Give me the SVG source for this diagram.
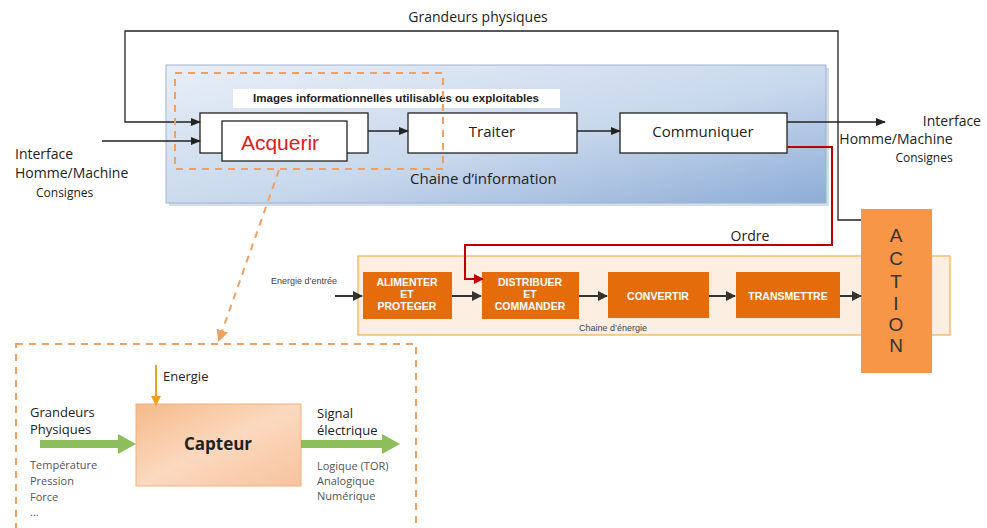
<svg xmlns="http://www.w3.org/2000/svg" width="987" height="528" viewBox="0 0 987 528">
<style>
text{font-family:"Open Sans","Noto Sans","DejaVu Sans",sans-serif;fill:#222}
text.ar{font-family:"Liberation Sans",Arial,sans-serif}
.box{fill:#fff;stroke:#222;stroke-width:1.3}
.ln{fill:none;stroke:#222;stroke-width:1.3}
.red{fill:none;stroke:#c00000;stroke-width:2}
.dash{fill:none;stroke:#f0a060;stroke-width:2;stroke-dasharray:7,6}
.ob{fill:#e46c0a}
.ot{font-family:"Liberation Sans",Arial,sans-serif;font-weight:bold;font-size:10.5px;fill:#fff;text-anchor:middle}
.ea{fill:none;stroke:#333;stroke-width:2}
.act{font-family:"Liberation Sans",Arial,sans-serif;font-size:19px;fill:#333;text-anchor:middle}
.sm{font-size:11px;fill:#555}
.md{font-size:13px}
</style>
<defs>
<linearGradient id="blue" x1="0" y1="0" x2="1" y2="1">
<stop offset="0" stop-color="#e8eef7"/>
<stop offset="0.55" stop-color="#c8d8ec"/>
<stop offset="1" stop-color="#8eacd6"/>
</linearGradient>
<linearGradient id="cap" x1="0" y1="0" x2="1" y2="1">
<stop offset="0" stop-color="#f6b98a"/>
<stop offset="0.5" stop-color="#fbd9bf"/>
<stop offset="1" stop-color="#f7c29b"/>
</linearGradient>
<marker id="ah" markerWidth="10" markerHeight="8" refX="9" refY="4" orient="auto" markerUnits="userSpaceOnUse"><path d="M0,0 L10,4 L0,8 z" fill="#222"/></marker>
<marker id="ahg" markerWidth="10" markerHeight="10" refX="9" refY="5" orient="auto" markerUnits="userSpaceOnUse"><path d="M0,0 L10,5 L0,10 z" fill="#333"/></marker>
<marker id="ahr" markerWidth="10" markerHeight="10" refX="9" refY="5" orient="auto" markerUnits="userSpaceOnUse"><path d="M0,0 L10,5 L0,10 z" fill="#c00000"/></marker>
<marker id="aho" markerWidth="12" markerHeight="12" refX="10" refY="6" orient="auto" markerUnits="userSpaceOnUse"><path d="M0,0 L12,6 L0,12 z" fill="#f0a060"/></marker>
<marker id="ahy" markerWidth="10" markerHeight="10" refX="9" refY="5" orient="auto" markerUnits="userSpaceOnUse"><path d="M0,0 L10,5 L0,10 z" fill="#f0a020"/></marker>
</defs>

<g id="info-chain">
<rect x="169" y="68" width="660" height="138" fill="#b8c4d4" opacity="0.6"/>
<rect x="166" y="65" width="660" height="138" fill="url(#blue)" stroke="#9fb4d2" stroke-width="1"/>
<text x="410" y="184" font-size="15">Chaine d’information</text>
</g>

<g id="label-images">
<rect x="233" y="89" width="327" height="19" fill="#fff"/>
<text class="ar" x="396" y="102" font-weight="bold" font-size="10.5" text-anchor="middle" textLength="286" lengthAdjust="spacingAndGlyphs">Images informationnelles utilisables ou exploitables</text>
</g>

<g id="acquerir">
<rect class="box" x="200" y="113" width="168" height="40"/>
<rect class="box" x="222" y="121" width="125" height="40"/>
<text class="ar" x="280" y="150" font-size="21" style="fill:#e02020" text-anchor="middle">Acquerir</text>
</g>

<g id="traiter">
<rect class="box" x="408" y="113" width="169" height="40"/>
<text x="492" y="137" font-size="15" text-anchor="middle">Traiter</text>
</g>

<g id="communiquer">
<rect class="box" x="620" y="113" width="167" height="40"/>
<text x="703" y="137" font-size="15" text-anchor="middle">Communiquer</text>
</g>

<g id="energy-chain">
<rect x="358" y="256" width="592" height="79" fill="#fdeee2" stroke="#f2b45c" stroke-width="1.3"/>
<text class="ar" x="613" y="331" font-size="9" style="fill:#444" text-anchor="middle">Chaine d’énergie</text>
<text class="ar" x="271" y="284" font-size="9" style="fill:#444">Energie d’entrée</text>
</g>

<g id="alimenter">
<rect class="ob" x="363" y="272" width="89" height="47"/>
<text class="ot" x="407" y="286">ALIMENTER</text>
<text class="ot" x="407" y="298">ET</text>
<text class="ot" x="407" y="310">PROTEGER</text>
</g>
<g id="distribuer">
<rect class="ob" x="482" y="272" width="97" height="47"/>
<text class="ot" x="530" y="286">DISTRIBUER</text>
<text class="ot" x="530" y="298">ET</text>
<text class="ot" x="530" y="310">COMMANDER</text>
</g>
<g id="convertir">
<rect class="ob" x="608" y="272" width="101" height="46"/>
<text class="ot" x="658" y="300">CONVERTIR</text>
</g>
<g id="transmettre">
<rect class="ob" x="736" y="272" width="104" height="46"/>
<text class="ot" x="788" y="300">TRANSMETTRE</text>
</g>

<g id="action">
<rect x="861" y="209" width="71" height="164" fill="#f79646"/>
<text class="act" x="896" y="242">A</text>
<text class="act" x="896" y="265">C</text>
<text class="act" x="896" y="288">T</text>
<text class="act" x="896" y="310">I</text>
<text class="act" x="896" y="331">O</text>
<text class="act" x="896" y="352">N</text>
</g>

<g id="labels">
<text x="478" y="22" font-size="14" text-anchor="middle">Grandeurs physiques</text>
<text x="15" y="159" font-size="14">Interface</text>
<text x="15" y="178" font-size="14">Homme/Machine</text>
<text x="36" y="197" font-size="12">Consignes</text>
<text x="981" y="126" font-size="14" text-anchor="end">Interface</text>
<text x="896" y="144" font-size="14" text-anchor="middle">Homme/Machine</text>
<text x="924" y="162" font-size="12" text-anchor="middle">Consignes</text>
<text x="750" y="241" font-size="14" text-anchor="middle">Ordre</text>
</g>

<g id="capteur-detail">
<rect class="dash" x="16" y="344" width="400" height="200"/>
<rect x="136" y="404" width="165" height="82" fill="url(#cap)" stroke="#f0b080" stroke-width="1"/>
<text x="218" y="450" font-size="17" font-weight="bold" text-anchor="middle">Capteur</text>
<text x="163" y="381" font-size="13">Energie</text>
<text class="md" x="30" y="417">Grandeurs</text>
<text class="md" x="30" y="434">Physiques</text>
<text class="sm" x="30" y="469">Température</text>
<text class="sm" x="30" y="485">Pression</text>
<text class="sm" x="30" y="501">Force</text>
<text class="sm" x="30" y="516">...</text>
<text class="md" x="317" y="418">Signal</text>
<text class="md" x="317" y="435">électrique</text>
<text class="sm" x="317" y="470">Logique (TOR)</text>
<text class="sm" x="317" y="485">Analogique</text>
<text class="sm" x="317" y="500">Numérique</text>
</g>

<g id="connectors">
<polyline class="ln" points="861,220 838,220 838,31 125,31 125,122 200,122" marker-end="url(#ah)"/>
<line class="ln" x1="102" y1="141" x2="200" y2="141" marker-end="url(#ah)"/>
<line class="ln" x1="368" y1="131" x2="408" y2="131" marker-end="url(#ah)"/>
<line class="ln" x1="577" y1="131" x2="620" y2="131" marker-end="url(#ah)"/>
<line class="ln" x1="787" y1="122" x2="885" y2="122" marker-end="url(#ah)"/>
<polyline class="red" points="787,147 832,147 832,245 465,245 465,279 483,279" marker-end="url(#ahr)"/>
<line class="ea" x1="335" y1="296" x2="362" y2="296" marker-end="url(#ahg)"/>
<line class="ea" x1="452" y1="296" x2="481" y2="296" marker-end="url(#ahg)"/>
<line class="ea" x1="579" y1="296" x2="607" y2="296" marker-end="url(#ahg)"/>
<line class="ea" x1="709" y1="296" x2="735" y2="296" marker-end="url(#ahg)"/>
<line class="ea" x1="840" y1="296" x2="861" y2="296" marker-end="url(#ahg)"/>
<rect class="dash" x="175" y="73" width="268" height="96"/>
<line class="dash" x1="279" y1="170" x2="219" y2="340" marker-end="url(#aho)"/>
<line x1="156" y1="365" x2="156" y2="405" stroke="#f0a020" stroke-width="2" marker-end="url(#ahy)"/>
<polygon points="40,440 118,440 118,434 136,444 118,454 118,448 40,448" fill="#8cbf5c"/>
<polygon points="301,440 382,440 382,434 400,444 382,454 382,448 301,448" fill="#8cbf5c"/>
</g>
</svg>
